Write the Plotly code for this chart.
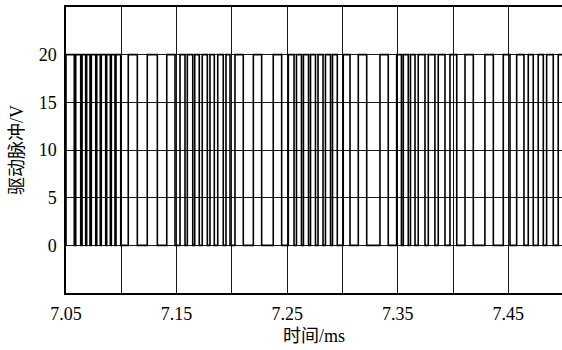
import plotly.graph_objects as go

# Drive pulse edges (ms)
rise_times = [7.0500, 7.0588, 7.0645, 7.0687, 7.0729, 7.0778, 7.0819, 7.0868, 7.0910, 7.0952,
              7.1063, 7.1235, 7.1411,
              7.1531, 7.1597, 7.1664, 7.1732, 7.1802, 7.1872, 7.1947,
              7.2028, 7.2194, 7.2374,
              7.2510, 7.2584, 7.2647, 7.2711, 7.2779, 7.2846, 7.2910,
              7.3007, 7.3143, 7.3339,
              7.3490, 7.3550, 7.3615, 7.3685, 7.3776, 7.3866, 7.3972,
              7.4108, 7.4288, 7.4454,
              7.4575, 7.4680, 7.4770, 7.4846, 7.4951]
fall_times = [7.0575, 7.0633, 7.0678, 7.0717, 7.0769, 7.0810, 7.0859, 7.0901, 7.0943, 7.0995,
              7.1145, 7.1326, 7.1486,
              7.1576, 7.1646, 7.1705, 7.1778, 7.1841, 7.1922, 7.1983,
              7.2103, 7.2269, 7.2450,
              7.2562, 7.2629, 7.2693, 7.2756, 7.2824, 7.2892, 7.2953,
              7.3068, 7.3219, 7.3414,
              7.3533, 7.3595, 7.3656, 7.3746, 7.3836, 7.3927, 7.4033,
              7.4183, 7.4364, 7.4515,
              7.4641, 7.4725, 7.4816, 7.4906, 7.5000]
v_high = 20
v_low = 0

x_ticks = [7.05, 7.15, 7.25, 7.35, 7.45]
x_ticktext = ["7.05", "7.15", "7.25", "7.35", "7.45"]
y_ticks = [0, 5, 10, 15, 20]

xs, ys = [], []
for r, f in zip(rise_times, fall_times):
    xs += [r, r, f, f]
    ys += [v_low, v_high, v_high, v_low]

fig = go.Figure()
fig.add_trace(go.Scatter(x=xs, y=ys, mode="lines",
                         line=dict(color="black", width=1.6),
                         showlegend=False, hoverinfo="skip"))

num_font = "Liberation Serif, Noto Sans CJK SC, serif"
grid_c = "#1a1a1a"
fig.update_layout(
    width=562, height=350,
    margin=dict(l=66, r=0, t=7, b=57, autoexpand=False),
    paper_bgcolor="white", plot_bgcolor="white",
    font=dict(family=num_font, size=18, color="black"),
    xaxis=dict(range=[7.05, 7.4985], tickvals=x_ticks, ticktext=x_ticktext,
               showgrid=True, gridcolor=grid_c, gridwidth=1,
               minor=dict(tick0=7.05, dtick=0.05, showgrid=True, gridcolor=grid_c, gridwidth=1),
               showline=True, linecolor="black", linewidth=1.5, mirror=True,
               ticks="", ticklabelstandoff=4, zeroline=False, automargin=False,
               tickfont=dict(family=num_font, size=18),
               title=dict(text="时间/ms", font=dict(family=num_font, size=18), standoff=6)),
    yaxis=dict(range=[-5, 25], tickvals=y_ticks,
               showgrid=True, gridcolor=grid_c, gridwidth=1,
               showline=True, linecolor="black", linewidth=1.5,
               ticks="", ticklabelstandoff=4, zeroline=False, automargin=False,
               tickfont=dict(family=num_font, size=18),
               title=dict(text="驱动脉冲/V", font=dict(family=num_font, size=18), standoff=10)),
)

fig.write_html("out.html", config={"displayModeBar": False},
               post_script="document.body.style.margin='0';document.body.style.padding='0';")
